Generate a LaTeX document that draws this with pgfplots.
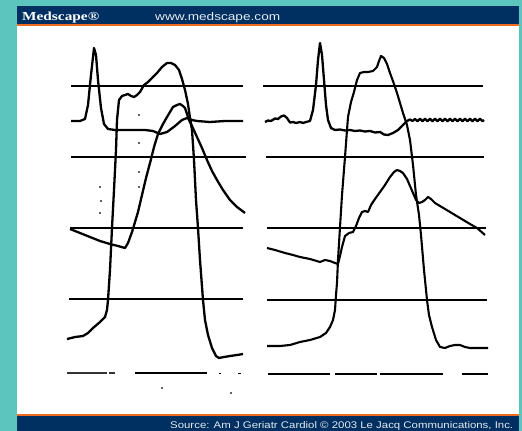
\documentclass[border=0pt]{standalone}
\usepackage{pgfplots}
\pgfplotsset{compat=1.18}
\usepackage{fontspec}
\setmainfont{Liberation Sans}
\newfontfamily\logofont{Liberation Serif}
\definecolor{tealbg}{RGB}{91,197,190}
\definecolor{navy}{RGB}{0,48,98}
\definecolor{orng}{RGB}{238,108,32}
\begin{document}
\begin{tikzpicture}
\begin{axis}[scale only axis, width=522bp, height=431bp,
  xmin=0, xmax=522, ymin=0, ymax=431, y dir=reverse,
  hide axis, clip=false]
% frame
\fill[tealbg] (axis cs:0,0) rectangle (axis cs:522,431);
\fill[white] (axis cs:17,26) rectangle (axis cs:519,414);
\fill[navy] (axis cs:17,6) rectangle (axis cs:519,24);
\fill[orng] (axis cs:17,24) rectangle (axis cs:519,26);
\fill[orng] (axis cs:17,414) rectangle (axis cs:519,416);
\fill[navy] (axis cs:17,416) rectangle (axis cs:519,431);
\node[anchor=base west, inner sep=0, text=white] at (axis cs:22,20.5)
  {\resizebox{77bp}{8.5bp}{\logofont\bfseries Medscape®}};
\node[anchor=base west, inner sep=0, text=white!90!navy] at (axis cs:155,20.5)
  {\resizebox{125bp}{8bp}{www.medscape.com}};
\node[anchor=base west, inner sep=0, text=white!90!navy] at (axis cs:170,428.5)
  {\resizebox{343bp}{7bp}{Source: Am J Geriatr Cardiol © 2003 Le Jacq Communications, Inc.}};

% horizontal reference lines, left panel
\addplot[black, line width=1.4bp] coordinates {(71,86) (243,86)};
\addplot[black, line width=1.4bp] coordinates {(71,157) (246,157)};
\addplot[black, line width=1.4bp] coordinates {(70,228) (243,228)};
\addplot[black, line width=1.2bp] coordinates {(69,299) (243,299)};
\addplot[black!80, line width=1.6bp] coordinates {(67,373) (107,373)};
\addplot[black!80, line width=1.2bp] coordinates {(109,373) (115,373)};
\addplot[black, line width=1.8bp] coordinates {(135,373) (207,373)};
\addplot[black, line width=1bp] coordinates {(219,373) (221,373)};
\addplot[black, line width=1bp] coordinates {(238,373) (241,373)};
% horizontal reference lines, right panel
\addplot[black, line width=1.4bp] coordinates {(263,86) (483,86)};
\addplot[black, line width=1.4bp] coordinates {(266,157) (484,157)};
\addplot[black, line width=1.4bp] coordinates {(267,228) (486,228)};
\addplot[black, line width=1.2bp] coordinates {(267,300) (487,300)};
\addplot[black, line width=1.6bp] coordinates {(268,374) (330,374)};
\addplot[black, line width=1.3bp] coordinates {(335,374) (377,374)};
\addplot[black, line width=1.3bp] coordinates {(380,374) (443,374)};
\addplot[black, line width=1.6bp] coordinates {(462,374) (488,374)};

% left panel traces
\addplot[black, line width=2.3bp, line join=round] coordinates {
(71,121)(80,121)(85,119)(88,105)(91,75)(94,48)(96,55)(98,80)(101,108)(104,124)
(108,129)(115,130)(130,130)(145,130)(153,131)(160,134)(167,132)(175,126)(182,120)
(187,118)(192,120)(197,121)(210,122)(225,121)(243,121)};
\addplot[black, line width=2.3bp, line join=round] coordinates {
(67,339)(75,337)(83,336)(88,333)(93,328)(100,322)(105,317)(107,310)(108,300)(110,270)
(112,228)(114,190)(116,150)(117,120)(119,100)(122,96)(125,95)(128,94)(131,96)(134,97)
(137,95)(140,92)(144,85)(148,82)(152,78)(157,73)(162,67)(167,63)(171,63)(175,65)
(179,70)(182,79)(185,90)(188,104)(190,118)(192,130)(194,160)(196,200)(198,228)(200,260)
(203,300)(205,320)(208,335)(212,348)(216,356)(219,358)(224,357)(230,356)(237,355)(243,354)};
\addplot[black, line width=2.3bp, line join=round] coordinates {
(70,229)(80,233)(90,237)(100,241)(110,244)(118,246)(125,248)(128,243)(132,232)(135,222)
(138,212)(142,195)(146,178)(150,163)(154,147)(158,134)(163,124)(167,117)(170,112)(173,107)
(177,105)(180,104)(183,106)(185,108)(187,114)(189,120)(192,126)(197,137)(202,148)(207,160)
(212,171)(217,180)(223,190)(230,200)(237,207)(245,213)};

% right panel traces
\addplot[black, line width=2.3bp, line join=round] coordinates {
(265,122)(268,120.5)(271,121)(275,118.5)(278,119)(281,116.5)(284,115.5)(287,118)(290,122.5)(293,122)
(296,123)(300,122)(303,123)(306,122)(310,121)(313,110)(316,85)(318,60)(320,43)(322,55)
(324,80)(326,105)(328,120)(331,128)(335,130)(340,129.5)(345,130.5)(350,130)(355,131)(360,130.5)
(365,131.5)(370,131)(375,132.5)(380,132)(384,134.5)(388,135)(393,133)(398,130)(403,125)(407,121)
(410,119.5)(412.5,121)(415,119)(417.5,121.2)(420,118.8)(422.5,121.2)(425,118.8)(427.5,121.2)
(430,118.8)(432.5,121.2)(435,118.8)(437.5,121.2)(440,118.8)(442.5,121.2)(445,118.8)(447.5,121.2)
(450,118.8)(452.5,121.2)(455,118.8)(457.5,121.2)(460,118.8)(462.5,121.2)(465,118.8)(467.5,121.2)
(470,118.8)(472.5,121.2)(475,118.8)(477.5,121.2)(480,118.8)(482.5,121.2)(484,120)};
\addplot[black, line width=2.1bp, line join=round] coordinates {
(267,346)(280,346)(290,345)(300,342)(310,340)(320,337)(326,333)(330,327)(333,320)(335,310)
(336,295)(337,283)(338,260)(340,227)(342,195)(345,157)(347,130)(348,117)(351,102)(354,92)
(357,80)(360,73)(364,72)(368,72)(373,71)(377,67)(379,61)(381,56)(384,58)(387,64)
(390,73)(394,84)(397,93)(400,103)(403,113)(407,125)(410,140)(413,165)(416,195)(419,215)
(421,235)(424,270)(427,300)(429,315)(432,327)(436,340)(440,347)(445,348)(450,346)(455,345)
(460,345)(465,347)(470,348)(480,348)(488,348)};
\addplot[black, line width=2.1bp, line join=round] coordinates {
(267,248)(275,250)(285,253)(293,255)(300,257)(310,259)(320,262)(325,260)(330,261)(335,263)
(338,264)(340,256)(342,247)(345,236)(349,233)(353,232)(356,226)(359,218)(362,212)(365,211)
(368,212)(371,205)(375,199)(380,192)(385,185)(390,177)(394,172)(397,170)(400,171)(403,173)
(407,179)(410,186)(413,193)(416,200)(419,203)(422,202)(425,200)(428,197)(431,199)(435,203)
(440,206)(450,212)(460,218)(470,224)(477,228)(485,235)};

% small specks
\addplot[black, only marks, mark=*, mark size=0.7bp] coordinates {
(100,187)(101,201)(100,213)(139,115)(139,143)(139,172)(139,187)(162,388)(231,393)};
\end{axis}
\end{tikzpicture}
\end{document}
